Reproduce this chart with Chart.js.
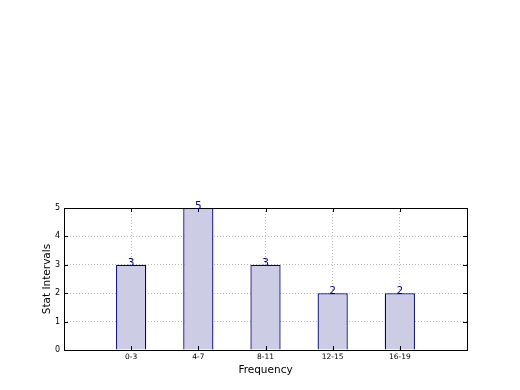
<!DOCTYPE html>
<html>
<head>
<meta charset="utf-8">
<script src="https://cdn.jsdelivr.net/npm/chart.js@4/dist/chart.umd.min.js"></script>
<style>
html,body{margin:0;padding:0;background:#fff;}
#wrap{width:520px;height:390px;position:relative;}
</style>
</head>
<body>
<div id="wrap"><canvas id="c" width="520" height="390"></canvas></div>
<script>
const categories = ['0-3', '4-7', '8-11', '12-15', '16-19'];
const counts = [3, 5, 3, 2, 2];
const yTicks = [0, 1, 2, 3, 4, 5];
const xTitle = 'Frequency';
const yTitle = 'Stat Intervals';

const labels = [''].concat(categories, ['']);
const data = [null].concat(counts, [null]);

const FONT = 'DejaVu Sans';
const GRID = 'rgba(0,0,0,0.28)';

const framePlugin = {
  id: 'frame',
  afterDatasetsDraw(chart) {
    const ctx = chart.ctx;
    const a = chart.chartArea;
    const xs = chart.scales.x, ys = chart.scales.y;
    ctx.save();
    ctx.strokeStyle = '#000';
    ctx.lineWidth = 1;
    ctx.beginPath();
    yTicks.forEach(v => {
      const y = Math.round(ys.getPixelForValue(v)) + 0.5;
      ctx.moveTo(a.left, y); ctx.lineTo(a.left + 4, y);
      ctx.moveTo(a.right, y); ctx.lineTo(a.right - 4, y);
    });
    categories.forEach((c, i) => {
      const x = Math.round(xs.getPixelForValue(i + 1)) + 0.5;
      ctx.moveTo(x, a.bottom); ctx.lineTo(x, a.bottom - 4);
      ctx.moveTo(x, a.top); ctx.lineTo(x, a.top + 4);
    });
    ctx.stroke();
    ctx.strokeRect(Math.round(a.left) + 0.5, Math.round(a.top) + 0.5,
                   Math.round(a.right - a.left), Math.round(a.bottom - a.top));
    const meta = chart.getDatasetMeta(0);
    ctx.fillStyle = '#000080';
    ctx.font = '10.5px "' + FONT + '"';
    ctx.textAlign = 'center';
    ctx.textBaseline = 'alphabetic';
    meta.data.forEach((bar, i) => {
      const v = data[i];
      if (v === null || v === undefined) return;
      ctx.fillText(String(v), bar.x, bar.y + 1);
    });
    ctx.restore();
  }
};

new Chart(document.getElementById('c'), {
  type: 'bar',
  data: {
    labels: labels,
    datasets: [{
      data: data,
      backgroundColor: 'rgb(204,204,229)',
      borderColor: '#000080',
      borderWidth: 1.3,
      barPercentage: 0.45,
      categoryPercentage: 1.0
    }]
  },
  options: {
    responsive: false,
    animation: false,
    devicePixelRatio: 1,
    layout: { padding: { left: 0, top: 208, right: 53, bottom: 0 } },
    plugins: { legend: { display: false }, tooltip: { enabled: false } },
    scales: {
      x: {
        type: 'category',
        offset: false,
        z: 1,
        grid: {
          display: true,
          offset: false,
          drawTicks: false,
          color: (c) => (c.index === 0 || c.index === labels.length - 1) ? 'rgba(0,0,0,0)' : GRID,
          lineWidth: 1
        },
        border: { display: false, dash: [1, 2] },
        ticks: {
          color: '#000',
          font: { family: FONT, size: 7.5 },
          padding: 3,
          maxRotation: 0,
          autoSkip: false
        },
        title: {
          display: true,
          text: xTitle,
          color: '#000',
          font: { family: FONT, size: 10.5 },
          padding: { top: 0, bottom: 13 }
        },
        afterFit: (s) => { s.height = 40; }
      },
      y: {
        min: 0,
        max: 5,
        z: 1,
        afterBuildTicks: (s) => { s.ticks = yTicks.map(v => ({ value: v })); },
        grid: {
          display: true,
          drawTicks: false,
          color: (c) => (c.tick && (c.tick.value === 0 || c.tick.value === 5)) ? 'rgba(0,0,0,0)' : GRID,
          lineWidth: 1
        },
        border: { display: false, dash: [1, 2] },
        ticks: {
          color: '#000',
          font: { family: FONT, size: 8 },
          padding: 4
        },
        title: {
          display: true,
          text: yTitle,
          color: '#000',
          font: { family: FONT, size: 10.5 },
          padding: { top: 41, bottom: 0 }
        },
        afterFit: (s) => { s.width = 64; }
      }
    }
  },
  plugins: [framePlugin]
});
</script>
</body>
</html>
